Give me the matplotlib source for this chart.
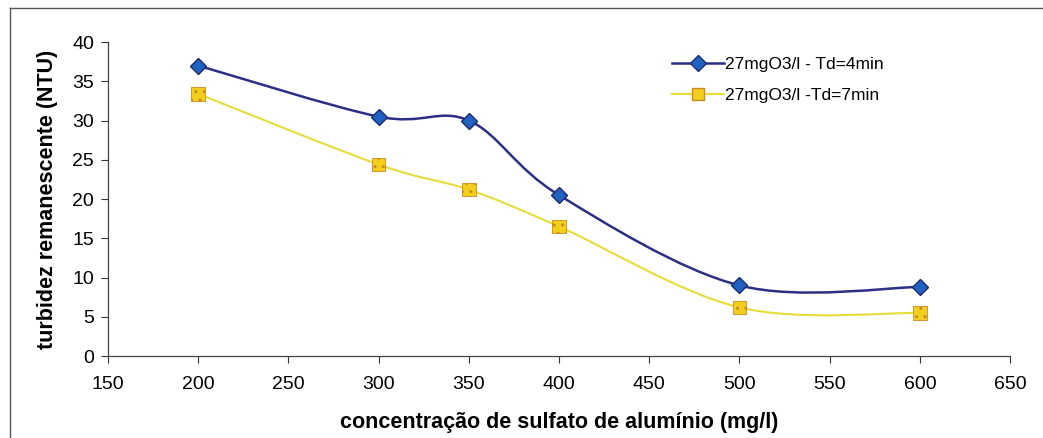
import matplotlib
matplotlib.use("Agg")
import matplotlib.pyplot as plt
import numpy as np
from matplotlib.path import Path
from matplotlib.patches import PathPatch
from matplotlib.lines import Line2D

plt.rcParams['font.family'] = ['Liberation Sans', 'DejaVu Sans']

dose = [200, 300, 350, 400, 500, 600]
td4 = [37.0, 30.5, 30.0, 20.5, 9.0, 8.8]
td7 = [33.4, 24.4, 21.2, 16.5, 6.2, 5.5]
labels = ["27mgO3/l - Td=4min", "27mgO3/l -Td=7min"]


def smooth_path(x, y):
    # bezier segments like excel "smoothed line"
    pts = np.column_stack([x, y]).astype(float)
    n = len(pts)
    verts = [pts[0]]
    codes = [Path.MOVETO]
    for i in range(n - 1):
        p0 = pts[i - 1] if i > 0 else pts[i]
        p1 = pts[i]
        p2 = pts[i + 1]
        p3 = pts[i + 2] if i + 2 < n else pts[i + 1]
        c1 = p1 + (p2 - p0) / 6.0
        c2 = p2 - (p3 - p1) / 6.0
        verts += [c1, c2, p2]
        codes += [Path.CURVE4] * 3
    return Path(verts, codes)


fig = plt.figure(figsize=(10.43, 4.38), dpi=100)
ax = fig.add_axes([0.1035, 0.187, 0.865, 0.717])

blue_line = "#2c2f86"
blue_face = "#1f62c0"
yel_line = "#e6dc3a"
yel_face = "#f2cf1a"

ax.add_patch(PathPatch(smooth_path(dose, td4), fill=False, edgecolor=blue_line, lw=1.8, zorder=2))
ax.add_patch(PathPatch(smooth_path(dose, td7), fill=False, edgecolor=yel_line, lw=1.5, zorder=2))

ax.plot(dose, td4, ls='none', marker='D', ms=8, mfc=blue_face, mec="#1d2a6e", mew=1.0, zorder=3)
ax.scatter(dose, td7, marker='s', s=95, facecolor=yel_face, edgecolor="#c98a20",
           hatch='..', linewidths=0.6, zorder=3)

ax.set_xlim(150, 650)
ax.set_ylim(0, 40)
ax.set_xticks(range(150, 651, 50))
ax.set_yticks(range(0, 41, 5))
ax.tick_params(direction='out', length=5, width=0.8, colors='#333333', labelsize=14,
               labelcolor='black')
ax.tick_params(axis='x', pad=9)
ax.tick_params(axis='y', pad=5)
for s in ['top', 'right']:
    ax.spines[s].set_visible(False)
for s in ['left', 'bottom']:
    ax.spines[s].set_color('#444444')
    ax.spines[s].set_linewidth(0.9)

ax.set_xlabel("concentração de sulfato de alumínio (mg/l)", fontsize=15.5, fontweight='bold', labelpad=14)
ax.set_ylabel("turbidez remanescente (NTU)", fontsize=15.5, fontweight='bold', labelpad=10)

h1 = Line2D([], [], color=blue_line, lw=1.8, marker='D', ms=8, mfc=blue_face, mec="#1d2a6e")
h2 = Line2D([], [], color=yel_line, lw=1.5, marker='s', ms=9, mfc=yel_face, mec="#c98a20")
ax.legend([h1, h2], labels, loc='upper left', bbox_to_anchor=(0.608, 1.003),
          frameon=False, fontsize=12.5, handlelength=3.0, handletextpad=0.05,
          labelspacing=0.9)

# outer frame of the chart area
fig.add_artist(Line2D([0.0096, 0.0096], [0.0, 0.982], transform=fig.transFigure, color='#555555', lw=1.0))
fig.add_artist(Line2D([0.0096, 1.0], [0.982, 0.982], transform=fig.transFigure, color='#555555', lw=1.0))

fig.savefig("out.png", dpi=100)
